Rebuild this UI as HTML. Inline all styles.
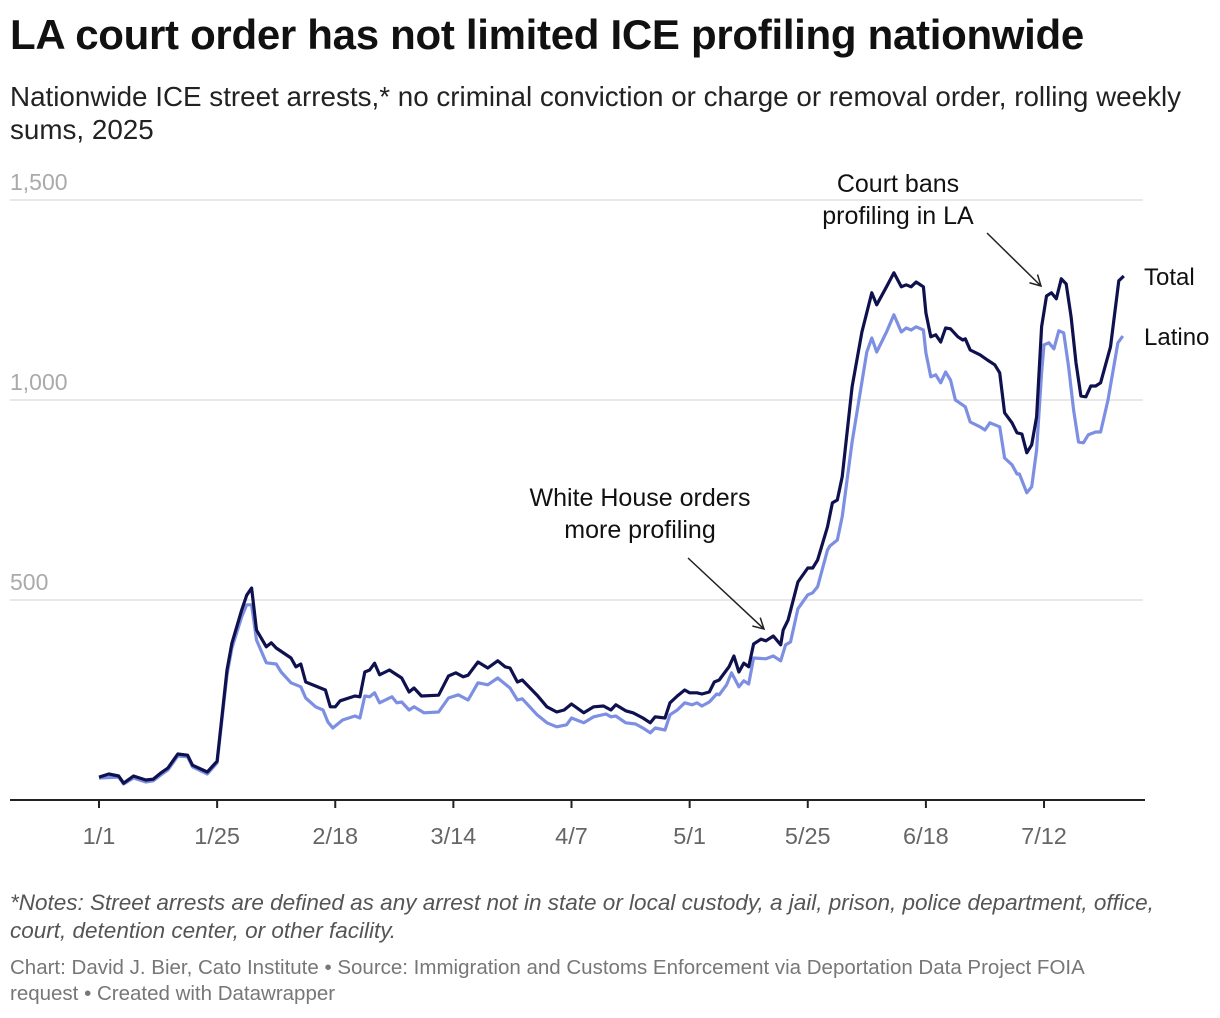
<!DOCTYPE html>
<html><head><meta charset="utf-8">
<style>
body{margin:0;background:#fff;width:1220px;height:1018px;overflow:hidden;font-family:"Liberation Sans",sans-serif;}
#title{position:absolute;left:10px;top:11px;font-size:42px;font-weight:bold;color:#111;margin:0;letter-spacing:-0.3px;white-space:nowrap}
#subtitle{position:absolute;left:10px;top:80px;width:1200px;font-size:27.8px;line-height:33px;color:#222}
#notes{position:absolute;left:10px;top:889px;width:1170px;font-size:22.5px;line-height:28px;color:#555;font-style:italic}
#credits{position:absolute;left:10px;top:955px;width:1140px;font-size:20.5px;line-height:26px;color:#777}
svg{position:absolute;left:0;top:0}
</style></head><body>
<h1 id="title">LA court order has not limited ICE profiling nationwide</h1>
<div id="subtitle">Nationwide ICE street arrests,* no criminal conviction or charge or removal order, rolling weekly sums, 2025</div>
<svg id="chart" width="1220" height="1018"></svg>
<div id="notes">*Notes: Street arrests are defined as any arrest not in state or local custody, a jail, prison, police department, office, court, detention center, or other facility.</div>
<div id="credits">Chart: David J. Bier, Cato Institute • Source: Immigration and Customs Enforcement via Deportation Data Project FOIA request • Created with Datawrapper</div>
<script>
const totalDays=[0,2,4,5,7,9.5,11,12.5,14,16,18,19,22,24,26,27,29,30,31,32,34,35,36,39,40,41,42,45,46,47,48,49,52,53,54,55,56,57,59,61.5,63,64,65.5,69,71,72.5,74,75,77,79,81,82.5,83.5,85,86,89,91,93,94.5,96,98.5,100.5,102.5,104,105,107,108.5,110.5,112,113,115,116,117.5,119,120,121.5,122.5,124,125,126,127.5,128,129,130,131,132,133,134.5,135.5,137,138.5,139,140,142,144,145,146,148,149,150,151,153,155,157,158,160,161.5,163,164,165,166,167.5,168,169,170,171,172,173,174.5,175.5,176,177,179,180.5,182,183,184,185.5,186.5,187.5,188.5,189.5,190.5,191.5,192.5,193.5,194.5,195.5,196.5,197.5,198.5,199.5,200.5,201.5,202.5,203.5,205.5,207.2,208.2];
const totalVals=[57,65,60,42,60,50,52,67,80,115,112,87,70,97,325,392,475,512,530,425,383,393,380,355,333,340,295,280,275,233,233,248,260,258,320,325,342,313,325,305,270,280,260,262,310,318,308,312,345,330,348,333,330,295,300,262,233,220,225,240,218,233,235,225,238,223,218,205,193,208,205,243,260,275,268,268,265,270,295,300,325,333,360,320,342,333,390,402,398,410,388,425,450,545,580,580,600,683,743,750,808,1033,1170,1268,1238,1283,1318,1283,1288,1283,1295,1283,1218,1158,1163,1145,1180,1178,1158,1150,1153,1125,1113,1100,1088,1068,968,943,918,915,868,888,958,1183,1260,1268,1253,1303,1290,1208,1093,1010,1008,1035,1035,1043,1133,1298,1310];
const latinoDays=[0,4,5,7,9.5,11,12.5,14,16,18,19,22,24,26,27,29,30,31,32,34,36,37,39,41,42,44,45.5,46.5,47.5,49.5,52,53,54,55,56,57,59.5,60.5,61.5,63,64,66,69,71,73,75,77,79,81,83.5,85,86,89,91,93,95,96,98.5,100.5,103,104,105,107,109,110.5,112,113,115,116,117.5,119,120.5,121.5,122.5,124,125.5,126,127.5,128.5,130,131,132,133,135.5,137,138.5,139.5,140.5,142,144,145,146,148,148.5,150,151,153,156,157,158,160,161.5,163,164,165,166,167.5,168,169,170,171,172,173,174,176,177,179,180,181,183,184,185.5,186.5,187,188.5,189.5,190.5,191.5,192,193,194,195,196,197,198,199,200,201,202.5,203.5,205,207,208];
const latinoVals=[55,57,40,55,45,48,62,75,110,108,83,65,93,313,380,458,488,488,400,343,340,320,293,283,255,233,225,195,180,200,210,205,260,258,268,243,258,243,245,225,233,218,220,255,263,250,293,288,305,280,250,253,213,193,183,188,205,193,208,215,208,210,193,190,180,168,180,175,213,225,243,238,243,235,245,265,263,288,318,283,298,290,355,353,360,348,388,395,478,513,518,533,625,635,650,708,895,1120,1155,1120,1170,1213,1170,1180,1175,1183,1175,1118,1058,1063,1043,1070,1050,1000,983,945,933,925,943,933,855,838,815,815,768,783,875,1068,1138,1143,1128,1173,1168,1083,975,895,893,913,920,920,1000,1143,1160];
const yTicks=[500,1000,1500];
const yTickLabels=["500","1,000","1,500"];
const xTickDays=[0,24,48,72,96,120,144,168,192];
const xTickLabels=["1/1","1/25","2/18","3/14","4/7","5/1","5/25","6/18","7/12"];

const svg=document.getElementById('chart');
const NS='http://www.w3.org/2000/svg';
const X=d=>99+d*4.922;
const Y=v=>800-v*0.4;
function mk(tag,attrs,parent){const e=document.createElementNS(NS,tag);for(const k in attrs)e.setAttribute(k,attrs[k]);(parent||svg).appendChild(e);return e;}

yTicks.forEach((t,i)=>{
  const g=mk('line',{x1:10,x2:1143,y1:Y(t),y2:Y(t),stroke:'#e0e0e0','stroke-width':1.5});
  
  
  const tx=mk('text',{x:10,y:Y(t)-10,'font-size':23,fill:'#aaa','font-family':'Liberation Sans, sans-serif'});
  tx.textContent=yTickLabels[i];
  
  
});
const ax=mk('line',{x1:10,x2:1145,y1:800,y2:800,stroke:'#222','stroke-width':2});


xTickDays.forEach((d,i)=>{
  const tk=mk('line',{x1:X(d),x2:X(d),y1:800,y2:808,stroke:'#222','stroke-width':2});
  
  
  const tx=mk('text',{x:X(d),y:844,'font-size':23.5,fill:'#666','text-anchor':'middle','font-family':'Liberation Sans, sans-serif'});
  tx.textContent=xTickLabels[i];
  
  
});
function series(days,vals,color,name){
  const p=mk('polyline',{points:days.map((d,i)=>X(d).toFixed(1)+','+Y(vals[i]).toFixed(1)).join(' '),fill:'none',stroke:color,'stroke-width':3.2,'stroke-linejoin':'round'});
  
  
}
series(latinoDays,latinoVals,'#7d8fe2','latino-line');
series(totalDays,totalVals,'#0f114f','total-line');

function label(txt,x,y,name,anchor,fs){
  const t=mk('text',{x:x,y:y,'font-size':fs||25,fill:'#111','text-anchor':anchor||'start','font-family':'Liberation Sans, sans-serif'});
  t.textContent=txt;
  
  
}
label('Total',1144,285,'total-series-label','start',24);
label('Latino',1144,345,'latino-series-label','start',24);
label('Court bans',898,192,'court-annotation-line1','middle');
label('profiling in LA',898,224,'court-annotation-line2','middle');
label('White House orders',640,506,'whitehouse-annotation-line1','middle');
label('more profiling',640,538,'whitehouse-annotation-line2','middle');
function arrow(x1,y1,x2,y2,name){
  const g=mk('g',{stroke:'#222','stroke-width':1.5,fill:'none'});
  
  
  mk('line',{x1,y1,x2,y2},g);
  const a=Math.atan2(y2-y1,x2-x1),L=12;
  mk('polyline',{points:`${x2-L*Math.cos(a-0.5)},${y2-L*Math.sin(a-0.5)} ${x2},${y2} ${x2-L*Math.cos(a+0.5)},${y2-L*Math.sin(a+0.5)}`},g);
}
arrow(987,233,1041,286,'court-annotation-arrow');
arrow(688,558,764,629,'whitehouse-annotation-arrow');
</script>
</body></html>
